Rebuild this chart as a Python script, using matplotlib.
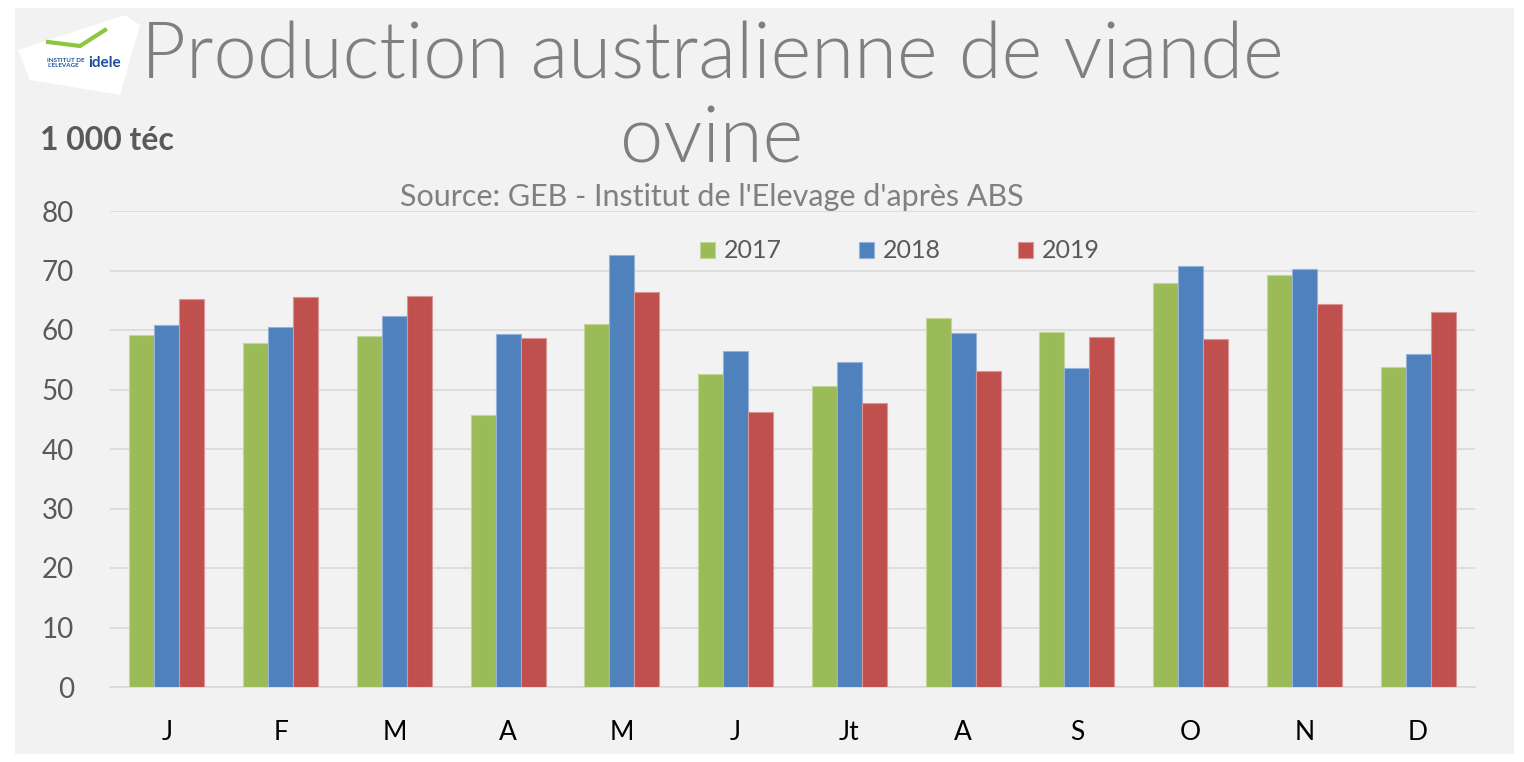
import matplotlib
matplotlib.use("Agg")
import matplotlib.pyplot as plt
import numpy as np
from matplotlib.patches import Rectangle, Polygon

months = ["J", "F", "M", "A", "M", "J", "Jt", "A", "S", "O", "N", "D"]
series_names = ["2017", "2018", "2019"]
v2017 = [59.2, 57.8, 59.0, 45.7, 61.0, 52.6, 50.6, 62.0, 59.7, 67.9, 69.2, 53.8]
v2018 = [60.8, 60.5, 62.3, 59.3, 72.6, 56.5, 54.6, 59.5, 53.6, 70.8, 70.3, 56.0]
v2019 = [65.2, 65.5, 65.7, 58.7, 66.4, 46.2, 47.7, 53.1, 58.8, 58.5, 64.4, 63.0]
yticks = [0, 10, 20, 30, 40, 50, 60, 70, 80]

colors = ["#9bbb59", "#4f81bd", "#c0504d"]
edges = ["#c3d69b", "#95b3d7", "#d99694"]
FONT = ["Lato", "DejaVu Sans"]
plt.rcParams['font.family'] = FONT

fig = plt.figure(figsize=(15.24, 7.62), dpi=100)
fig.patch.set_facecolor("white")
bg = Rectangle((15/1524, 8/762), 1-25/1524, 1-16/762, transform=fig.transFigure,
               facecolor="#f2f2f2", edgecolor="none", zorder=-5)
fig.patches.append(bg)

ax = fig.add_axes([110/1524, 1-687/762, (1475-110)/1524, (687-211)/762])
ax.set_zorder(3)
ax.set_facecolor("none")
x = np.arange(len(months))
w = 0.22
for i, vals in enumerate([v2017, v2018, v2019]):
    ax.bar(x + (i-1)*w, vals, width=w, color=colors[i], edgecolor=edges[i],
           linewidth=0.8, label=series_names[i], zorder=3)

ax.set_xlim(-0.5, 11.5)
ax.set_ylim(0, 80)
ax.set_yticks(yticks)
ax.set_yticklabels([str(t) for t in yticks], fontsize=20, color="#595959")
ax.set_xticks(x)
ax.set_xticklabels(months, fontsize=19, color="#000000")
ax.tick_params(axis='both', length=0)
ax.tick_params(axis='x', pad=24)
ax.tick_params(axis='y', pad=26)
ax.grid(axis='y', color="#d9d9d9", linewidth=1.2, zorder=0)
for s in ["top", "right", "left"]:
    ax.spines[s].set_visible(False)
ax.spines["bottom"].set_color("#d9d9d9")
ax.spines["bottom"].set_linewidth(1.2)

leg = ax.legend(loc="center", bbox_to_anchor=((900-110)/1365, 1-(251-211)/476), ncol=3,
                frameon=False, fontsize=18, handlelength=0.6, handleheight=0.6,
                columnspacing=3.1, handletextpad=0.35, labelcolor="#595959")

fig.text(712/1524, 1-57/762, "Production australienne de viande", ha="center", va="center",
         fontsize=56, color="#7f7f7f", fontweight=300)
fig.text(712/1524, 1-141/762, "ovine", ha="center", va="center",
         fontsize=56, color="#7f7f7f", fontweight=300)
fig.text(712/1524, 1-197/762, "Source: GEB - Institut de l'Elevage d'après ABS", ha="center",
         va="center", fontsize=22, color="#808080")
fig.text(40/1524, 1-141/762, "1 000 téc", ha="left", va="center", fontsize=23,
         fontweight="bold", color="#595959")

# logo
logo = Polygon([[18/1524, 1-50/762], [125/1524, 1-15/762], [140/1524, 1-25/762],
                [120/1524, 1-95/762], [30/1524, 1-80/762]], closed=True,
               transform=fig.transFigure, facecolor="white", edgecolor="none", zorder=1)
fig.patches.append(logo)
fig.text(47/1524, 1-63/762, "INSTITUT DE\nL'ELEVAGE", fontsize=4.5, color="#1f4e9c",
         fontweight="bold", ha="left", va="center", linespacing=0.9)
fig.text(88/1524, 1-63/762, "idele", fontsize=11, color="#1f4e9c", fontweight="bold",
         ha="left", va="center")
fig.lines.append(plt.Line2D([48/1524, 80/1524, 105/1524], [1-42/762, 1-46/762, 1-30/762],
                            transform=fig.transFigure, color="#8dc63f", linewidth=3))

fig.savefig("out.png", dpi=100, facecolor=fig.get_facecolor())
